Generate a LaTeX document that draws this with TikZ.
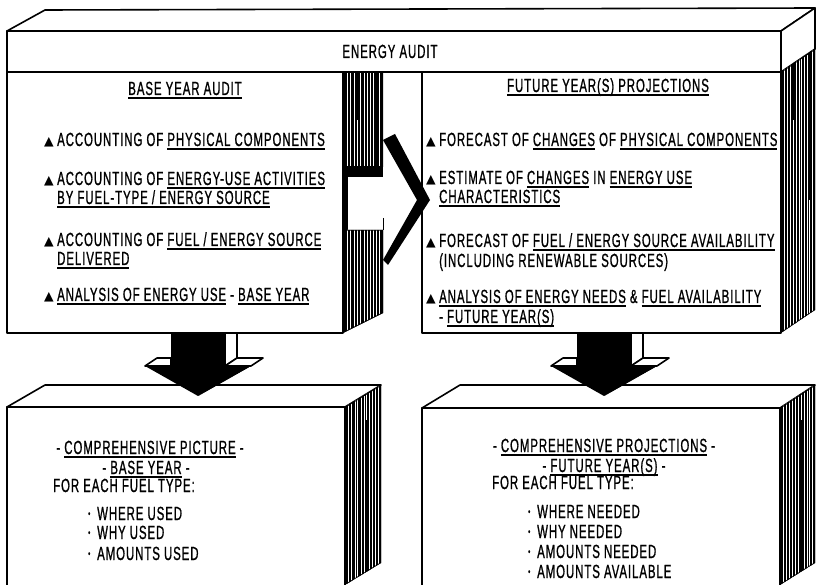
\documentclass[tikz,border=0pt]{standalone}
\usepackage{fontspec}
\setmainfont{Liberation Sans}[FakeStretch=0.6, LetterSpace=5, FakeBold=0.9]
\newfontfamily\symfont{DejaVu Sans}

% underline that sits a little below the baseline
\newcommand\uln[1]{\setbox0=\hbox{#1}\rlap{\rule[-3.6pt]{\wd0}{1.2pt}}\box0\relax}
% triangle bullet
\newcommand\tri{\makebox[13pt][l]{\symfont\fontsize{12.5}{10}\selectfont ▲}}
% small round bullet
\newcommand\dotb{\makebox[9pt][l]{\raisebox{3pt}{\fontsize{10}{9}\selectfont •}}}

% dark, streaked side face of a block: #1 closed path, #2 left x, #3 right x
\newcommand\sideface[3]{%
  \begin{scope}
    \clip #1;
    \fill[black] #1;
    \foreach \f/\w/\a/\b in {0.10/0.4/0/600, 0.19/0.7/0/600, 0.27/0.3/0/600,
        0.35/0.6/120/600, 0.44/0.4/0/600, 0.53/0.8/0/600, 0.60/0.3/0/420,
        0.68/0.5/0/600, 0.77/0.7/0/600, 0.84/0.3/200/600, 0.91/0.5/0/600}
      \draw[white, line width=\w pt] ({#2+\f*(#3-#2)},\a) -- ({#2+\f*(#3-#2)},\b);
    \draw[black, line width=1.4pt] #1;
  \end{scope}}

% 3-D block arrow pointing down, centred on x = #1
\newcommand\downblock[1]{%
  \fill[black] (#1-27,333) -- (#1+27,333) -- (#1+27,366) -- (#1+53,366)
     -- (#1,396) -- (#1-53,366) -- (#1-27,366) -- cycle;
  \fill[black] (#1+53,366) -- (#1+65,358) -- (#1+12,388) -- (#1,396) -- cycle;
  \draw[edge, fill=white] (#1+27,333) -- (#1+39,333) -- (#1+39,358) -- (#1+27,366) -- cycle;
  \draw[edge, fill=white] (#1+27,366) -- (#1+39,358) -- (#1+65,358) -- (#1+53,366) -- cycle;
  \draw[edge, fill=white] (#1-53,366) -- (#1-41,358) -- (#1-27,358) -- (#1-27,366) -- cycle;}

\begin{document}
\begin{tikzpicture}[x=1pt, y=-1pt,
  edge/.style={draw=black, line width=1.6pt, line join=round},
  txt/.style={font=\fontsize{19}{20}\selectfont, inner sep=0pt, anchor=base west},
  ctxt/.style={txt, anchor=base}]
\useasboundingbox (0,0) rectangle (817,585);

% ---------- bottom blocks ----------
\draw[edge, fill=white] (7,407) -- (45,385) -- (381,385) -- (345,407) -- cycle;
\draw[edge, fill=white] (7,595) -- (7,407) -- (345,407) -- (345,595);
\sideface{(345,407) -- (381,385) -- (381,563) -- (345,585) -- cycle}{345}{381}

\draw[edge, fill=white] (422,408) -- (460,385) -- (815,385) -- (780,408) -- cycle;
\draw[edge, fill=white] (422,595) -- (422,408) -- (780,408) -- (780,595);
\sideface{(780,408) -- (815,385) -- (815,563) -- (780,585) -- cycle}{780}{815}

% ---------- top block ----------
\draw[edge, fill=white] (7,31) -- (45,10) -- (815,8) -- (781,31) -- cycle;
\draw[edge, fill=white] (7,31) rectangle (781,72);
\draw[edge, fill=white] (781,31) -- (815,8) -- (815,49) -- (781,72) -- cycle;
\sideface{(781,72) -- (815,49) -- (815,310) -- (781,333) -- cycle}{781}{815}

% side of the base-year panel, cut by the arrow shaft
\sideface{(343,72) -- (383,72) -- (383,167) -- (343,167) -- cycle}{343}{383}
\fill[black] (343,167) rectangle (383,177);
\fill[black] (343,177) rectangle (348,230);
\draw[black, line width=1pt] (383,218) -- (383,230);
\sideface{(343,230) -- (383,230) -- (383,313) -- (343,333) -- cycle}{343}{383}

% front panels
\draw[edge, fill=white] (7,72) rectangle (343,333);
\draw[edge, fill=white] (422,72) rectangle (781,333);

% chevron arrow head between the panels
\fill[black] (383,140) -- (395,134) -- (430,200) -- (388,265) -- (383,260) -- (417,200) -- cycle;

% ---------- down arrows ----------
\downblock{198}
\downblock{604}

% ---------- texts ----------
\node[ctxt] (audit) at (390,58) {ENERGY AUDIT};

\node[ctxt] (base) at (185,95) {\uln{BASE YEAR AUDIT}};
\node[txt] (l1)  at (44,146) {\tri ACCOUNTING OF \uln{PHYSICAL COMPONENTS}};
\node[txt] (l2a) at (44,185) {\tri ACCOUNTING OF \uln{ENERGY-USE ACTIVITIES}};
\node[txt] (l2b) at (57,204) {\uln{BY FUEL-TYPE / ENERGY SOURCE}};
\node[txt] (l3a) at (44,246) {\tri ACCOUNTING OF \uln{FUEL / ENERGY SOURCE}};
\node[txt] (l3b) at (57,265) {\uln{DELIVERED}};
\node[txt] (l4)  at (44,301) {\tri \uln{ANALYSIS OF ENERGY USE} - \uln{BASE YEAR}};

\node[ctxt] (future) at (608,92) {\uln{FUTURE YEAR(S) PROJECTIONS}};
\node[txt] (r1)  at (426,146) {\tri FORECAST OF \uln{CHANGES} OF \uln{PHYSICAL COMPONENTS}};
\node[txt] (r2a) at (426,184) {\tri ESTIMATE OF \uln{CHANGES} IN \uln{ENERGY USE}};
\node[txt] (r2b) at (439,203) {\uln{CHARACTERISTICS}};
\node[txt] (r3a) at (426,247) {\tri FORECAST OF \uln{FUEL / ENERGY SOURCE AVAILABILITY}};
\node[txt] (r3b) at (439,267) {(INCLUDING RENEWABLE SOURCES)};
\node[txt] (r4a) at (426,303) {\tri \uln{ANALYSIS OF ENERGY NEEDS} \& \uln{FUEL AVAILABILITY}};
\node[txt] (r4b) at (439,323) {- \uln{FUTURE YEAR(S)}};

\node[ctxt] (picA) at (150,454) {- \uln{COMPREHENSIVE PICTURE} -};
\node[ctxt] (picB) at (146,474) {- \uln{BASE YEAR} -};
\node[txt]  (picC) at (53,492) {FOR EACH FUEL TYPE:};
\node[txt]  (picD) at (88,520) {\dotb WHERE USED};
\node[txt]  (picE) at (88,539) {\dotb WHY USED};
\node[txt]  (picF) at (88,560) {\dotb AMOUNTS USED};

\node[ctxt] (proA) at (604,452) {- \uln{COMPREHENSIVE PROJECTIONS} -};
\node[ctxt] (proB) at (604,472) {- \uln{FUTURE YEAR(S)} -};
\node[txt]  (proC) at (492,489) {FOR EACH FUEL TYPE:};
\node[txt]  (proD) at (528,518) {\dotb WHERE NEEDED};
\node[txt]  (proE) at (528,538) {\dotb WHY NEEDED};
\node[txt]  (proF) at (528,558) {\dotb AMOUNTS NEEDED};
\node[txt]  (proG) at (528,578) {\dotb AMOUNTS AVAILABLE};
\end{tikzpicture}
\end{document}
